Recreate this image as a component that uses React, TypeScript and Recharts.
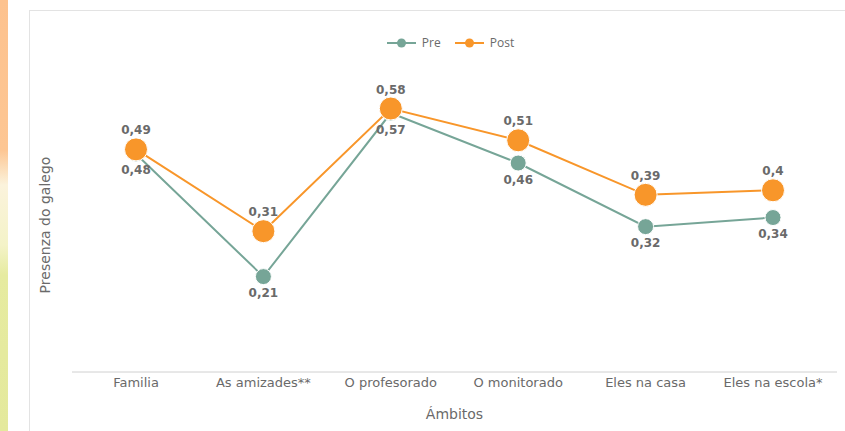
import { LineChart, Line, XAxis, YAxis, Legend, LabelList, Label } from 'recharts';

const ambitos = ['Familia', 'As amizades**', 'O profesorado', 'O monitorado', 'Eles na casa', 'Eles na escola*'];
const pre = [0.48, 0.21, 0.57, 0.46, 0.32, 0.34];
const post = [0.49, 0.31, 0.58, 0.51, 0.39, 0.4];

const PRE_COLOR = '#76a597';
const POST_COLOR = '#f8962a';
const TEXT = '#6a6a6a';

const data = ambitos.map((name, i) => ({ name, pre: pre[i], post: post[i] }));

const fmt = (v: any) => String(v).replace('.', ',');

function LegendContent() {
  const items = [
    { label: 'Pre', color: PRE_COLOR },
    { label: 'Post', color: POST_COLOR },
  ];
  return (
    <div style={{ display: 'flex', justifyContent: 'center', gap: 14, paddingLeft: 64, fontFamily: 'Open Sans', fontSize: 12, color: TEXT }}>
      {items.map((it) => (
        <div key={it.label} style={{ display: 'flex', alignItems: 'center', gap: 6 }}>
          <svg width={29} height={10}>
            <line x1={0} y1={5} x2={29} y2={5} stroke={it.color} strokeWidth={2} />
            <circle cx={14.5} cy={5} r={4.5} fill={it.color} />
          </svg>
          <span>{it.label}</span>
        </div>
      ))}
    </div>
  );
}

export default function App() {
  return (
    <div style={{ position: 'absolute', left: 0, top: 0, width: 845, height: 431, background: '#fff', overflow: 'hidden' }}>
      <div
        style={{
          position: 'absolute',
          left: 0,
          top: 0,
          width: 8,
          height: 431,
          background: 'linear-gradient(to bottom, #fdc28e 0px, #fdc693 150px, #fbf3dc 185px, #f4f3c8 245px, #e6eba0 275px, #e4e99c 431px)',
        }}
      />
      <div
        style={{
          position: 'absolute',
          left: 29,
          top: 10,
          width: 830,
          height: 430,
          border: '1px solid #e3e3e3',
          boxSizing: 'border-box',
        }}
      />
      <div style={{ position: 'absolute', left: 0, top: 0 }}>
        <LineChart width={845} height={431} data={data} margin={{ top: 34, right: 8, bottom: 0, left: 0 }}>
          <Legend verticalAlign="top" height={20} content={<LegendContent />} />
          <XAxis
            dataKey="name"
            height={59}
            padding={{ left: 64, right: 64 }}
            tickLine={false}
            tickSize={0}
            tickMargin={6}
            axisLine={{ stroke: '#d0d0d0' }}
            tick={{ fill: TEXT, fontSize: 13, fontFamily: 'DejaVu Sans' }}
            interval={0}
          >
            <Label value="Ámbitos" position="insideBottom" offset={12} fill={TEXT} fontSize={14} fontFamily="DejaVu Sans" />
          </XAxis>
          <YAxis width={72} domain={[0, 0.7]} tick={false} tickLine={false} axisLine={false}>
            <Label
              value="Presenza do galego"
              angle={-90}
              position="center"
              dx={9}
              dy={12}
              fill={TEXT}
              fontSize={14}
              fontFamily="DejaVu Sans"
            />
          </YAxis>
          <Line
            dataKey="pre"
            name="Pre"
            stroke={PRE_COLOR}
            strokeWidth={2}
            dot={{ r: 8, fill: PRE_COLOR, stroke: '#fff', strokeWidth: 1 }}
            isAnimationActive={false}
          >
            <LabelList
              dataKey="pre"
              position="bottom"
              offset={12}
              formatter={fmt}
              fill={TEXT}
              fontSize={12}
              fontWeight="bold"
              fontFamily="DejaVu Sans"
            />
          </Line>
          <Line
            dataKey="post"
            name="Post"
            stroke={POST_COLOR}
            strokeWidth={2}
            dot={{ r: 11.5, fill: POST_COLOR, stroke: '#fff', strokeWidth: 1 }}
            isAnimationActive={false}
          >
            <LabelList
              dataKey="post"
              position="top"
              offset={15}
              formatter={fmt}
              fill={TEXT}
              fontSize={12}
              fontWeight="bold"
              fontFamily="DejaVu Sans"
            />
          </Line>
        </LineChart>
      </div>
    </div>
  );
}
